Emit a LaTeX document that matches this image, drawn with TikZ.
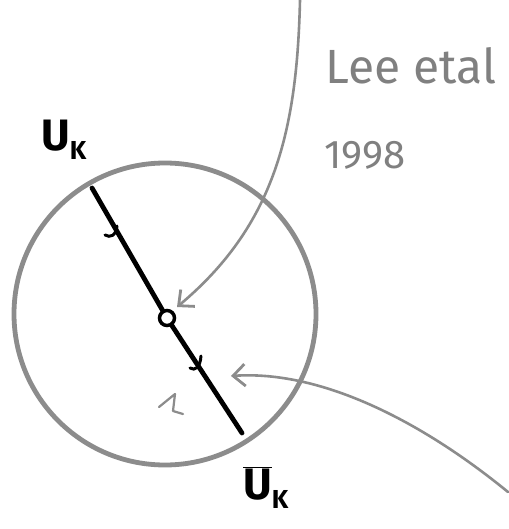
\documentclass[tikz,border=0pt]{standalone}
\usepackage{fontspec}
\setmainfont{Fira Sans}
\usetikzlibrary{arrows.meta}
\begin{document}
\begin{tikzpicture}[x=1pt,y=-1pt,
  ring/.style={draw=black!45,line width=4.8pt},
  rod/.style={draw=black,line width=4.8pt,line cap=round},
  tick/.style={draw=black,line width=3pt,line cap=round},
  pointer/.style={draw=black!45,line width=2.6pt,line cap=round,
     -{Straight Barb[length=12pt,width=22pt,line width=2.8pt]}},
  hand/.style={font=\fontsize{44}{48}\selectfont\bfseries},
  note/.style={text=black!50,font=\fontsize{48}{52}\selectfont}]
\useasboundingbox (0,0) rectangle (508,529);
\fill[white] (0,0) rectangle (508,529);
% big circle
\draw[ring] (165,314) circle[radius=151];
% rod
\coordinate (top) at (92,188);
\coordinate (bot) at (242,433);
\node[circle,draw=black,line width=3.5pt,minimum size=15pt,inner sep=0pt,fill=white] (c) at (167,318) {};
\draw[rod] (top) -- (c);
\draw[rod] (c) -- (bot);
% ticks
\draw[tick] (105,235) .. controls (110,238) and (116,236) .. (117,226);
\draw[tick] (190,368) .. controls (195,371) and (200,368) .. (201,356);
% small gray mark
\draw[draw=black!45,line width=2.2pt,line cap=round,line join=round]
  (159,407) -- (175,394) -- (173,411) -- (183,414);
% labels
\node[hand] (uk) at (64,140) {U\textsubscript{\fontsize{26}{28}\selectfont K}};
\node[hand] (ubar) at (266,488) {$\overline{\mbox{U}}$\textsubscript{\fontsize{26}{28}\selectfont K}};
\node[note] (lee) at (411,66) {Lee etal};
\node[note,font=\fontsize{40}{44}\selectfont] (yr) at (365,155) {1998};
% pointers
\coordinate (p1) at (300,0);
\coordinate (p2) at (508,492);
\draw[pointer] (p1) .. controls (297,130) and (275,225) .. (177,307);
\draw[pointer] (p2) .. controls (420,420) and (320,370) .. (231,376);
\end{tikzpicture}
\end{document}
